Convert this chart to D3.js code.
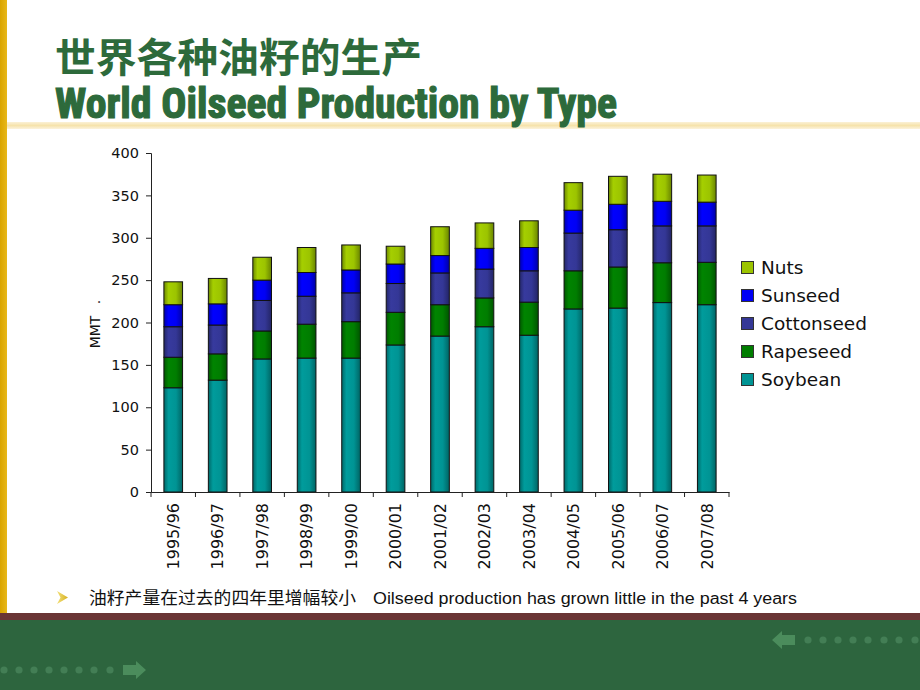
<!DOCTYPE html>
<html>
<head>
<meta charset="utf-8">
<script src="https://cdn.jsdelivr.net/npm/d3@7"></script>
<style>
  html, body { margin: 0; padding: 0; background: #ffffff; }
  svg { display: block; }
</style>
</head>
<body>
<svg id="chart" width="920" height="690"></svg>
<script>
// ---- data ----
const categories = ["1995/96","1996/97","1997/98","1998/99","1999/00","2000/01","2001/02","2002/03","2003/04","2004/05","2005/06","2006/07","2007/08"];
const seriesNames = ["Soybean","Rapeseed","Cottonseed","Sunseed","Nuts"];
const soybean    = [123, 132, 157, 158, 158, 173.5, 184, 195, 185, 216, 217, 223.5, 221];
const rapeseed   = [36, 31, 33, 40, 43, 38.5, 37, 34, 39, 45, 48.5, 47, 50];
const cottonseed = [36, 34, 36, 33, 34, 34, 37.5, 34, 37, 44.5, 44, 43.5, 43];
const sunseed    = [26, 25, 24, 28, 27, 23, 20.5, 24.5, 27.5, 27, 30, 29, 28];
const nuts       = [27, 30, 27, 29.5, 29.5, 21, 34, 30, 31.5, 32.5, 33, 32, 32];
const yTicks = [0, 50, 100, 150, 200, 250, 300, 350, 400];

const colors = {Soybean:"#009494", Rapeseed:"#007d00", Cottonseed:"#343796", Sunseed:"#0000f5", Nuts:"#9cc400"};

const table = categories.map((c, i) => ({
  cat: c, Soybean: soybean[i], Rapeseed: rapeseed[i], Cottonseed: cottonseed[i], Sunseed: sunseed[i], Nuts: nuts[i]
}));

const svg = d3.select("#chart");
const defs = svg.append("defs");

// ---- slide decorations ----
const goldGrad = defs.append("linearGradient").attr("id","gold").attr("x1","0").attr("x2","1");
goldGrad.append("stop").attr("offset","0%").attr("stop-color","#d9a400");
goldGrad.append("stop").attr("offset","100%").attr("stop-color","#e8b81a");
svg.append("rect").attr("x",0).attr("y",0).attr("width",7).attr("height",613).attr("fill","url(#gold)");

const creamGrad = defs.append("linearGradient").attr("id","cream").attr("x1","0").attr("x2","0").attr("y1","0").attr("y2","1");
creamGrad.append("stop").attr("offset","0%").attr("stop-color","#fbf1d6");
creamGrad.append("stop").attr("offset","50%").attr("stop-color","#f6e3ac");
creamGrad.append("stop").attr("offset","100%").attr("stop-color","#fcf3dc");
svg.append("rect").attr("x",7).attr("y",122).attr("width",913).attr("height",7).attr("fill","url(#cream)");

svg.append("rect").attr("x",0).attr("y",613).attr("width",920).attr("height",7).attr("fill","#6a3535");
svg.append("rect").attr("x",0).attr("y",620).attr("width",920).attr("height",70).attr("fill","#2d653e");

// dots & arrows on the green band
const dotsLeft = [4,19,34,49,64,79,94,110];
svg.append("g").selectAll("circle").data(dotsLeft).join("circle")
  .attr("cx", d => d).attr("cy", 670).attr("r", 3.6).attr("fill", "#437e55");
svg.append("path").attr("d","M123,665 L136,665 L136,661 L146,670 L136,679 L136,675 L123,675 Z").attr("fill","#4b8c5c");
const dotsRight = [808,823,838,853,868,884,899,915];
svg.append("g").selectAll("circle").data(dotsRight).join("circle")
  .attr("cx", d => d).attr("cy", 640).attr("r", 3.6).attr("fill", "#437e55");
svg.append("path").attr("d","M795,635 L782,635 L782,631 L772,640 L782,649 L782,645 L795,645 Z").attr("fill","#4b8c5c");

// ---- titles ----
svg.append("text").attr("x",55).attr("y",72)
  .attr("font-family","'Noto Sans CJK SC', sans-serif").attr("font-weight","bold")
  .attr("font-size",40).attr("fill","#2d6a3b")
  .attr("textLength",367).attr("lengthAdjust","spacingAndGlyphs")
  .text("世界各种油籽的生产");
svg.append("text").attr("x",55).attr("y",118)
  .attr("font-family","'Liberation Sans Narrow', 'Roboto Condensed', 'Liberation Sans', sans-serif").attr("font-weight","bold")
  .attr("font-size",42).attr("fill","#2d6a3b")
  .attr("stroke","#2d6a3b").attr("stroke-width",1.2)
  .attr("textLength",562).attr("lengthAdjust","spacingAndGlyphs")
  .text("World Oilseed Production by Type");

// ---- scales ----
const x = d3.scaleBand().domain(categories).range([151, 729]).paddingInner(0.58).paddingOuter(0.29);
const y = d3.scaleLinear().domain([0, 400]).range([492, 153]);

// bar gradients
seriesNames.forEach(s => {
  const g = defs.append("linearGradient").attr("id","g-"+s).attr("x1","0").attr("x2","1");
  const base = d3.color(colors[s]);
  g.append("stop").attr("offset","0%").attr("stop-color", base.darker(1.0));
  g.append("stop").attr("offset","25%").attr("stop-color", base.brighter(0.15));
  g.append("stop").attr("offset","65%").attr("stop-color", base);
  g.append("stop").attr("offset","100%").attr("stop-color", base.darker(1.1));
});

const stack = d3.stack().keys(seriesNames);
const layers = stack(table);

svg.append("g").selectAll("g").data(layers).join("g")
  .attr("fill", d => "url(#g-" + d.key + ")")
  .selectAll("rect").data(d => d).join("rect")
  .attr("x", d => x(d.data.cat))
  .attr("width", x.bandwidth())
  .attr("y", d => y(d[1]))
  .attr("height", d => y(d[0]) - y(d[1]))
  .attr("stroke", "#111")
  .attr("stroke-width", 1);

// ---- axes ----
const yAxis = svg.append("g").attr("transform","translate(151,0)")
  .call(d3.axisLeft(y).tickValues(yTicks).tickSize(5).tickPadding(7).tickFormat(d3.format("d")));
yAxis.selectAll("text").attr("font-family","'DejaVu Sans', Verdana, sans-serif").attr("font-size",14.5).attr("fill","#111");
yAxis.selectAll("line, path").attr("stroke","#222");

const xAxis = svg.append("g").attr("transform","translate(0,492)")
  .call(d3.axisBottom(x).tickSize(0).tickPadding(0));
xAxis.select(".domain").attr("stroke","#222");
xAxis.selectAll("text")
  .attr("font-family","'DejaVu Sans', Verdana, sans-serif").attr("font-size",16).attr("fill","#111")
  .attr("text-anchor","end").attr("transform","rotate(-90)")
  .attr("x",-11).attr("y",0).attr("dy","0.36em");

// boundary ticks (Excel style, between categories)
const boundaries = d3.range(categories.length + 1).map(i => x.range()[0] + i * x.step());
svg.append("g").selectAll("line").data(boundaries).join("line")
  .attr("x1", d => d).attr("x2", d => d).attr("y1", 492).attr("y2", 497)
  .attr("stroke","#222");

// y title
const yt = svg.append("text").attr("transform","translate(100,332) rotate(-90)")
  .attr("text-anchor","middle")
  .attr("font-family","'DejaVu Sans', Verdana, sans-serif").attr("font-size",14).attr("fill","#111")
  .text("MMT");
svg.append("text").attr("transform","translate(100,302) rotate(-90)")
  .attr("text-anchor","middle")
  .attr("font-family","'DejaVu Sans', Verdana, sans-serif").attr("font-size",14).attr("fill","#111")
  .text(".");

// ---- legend ----
const legendNames = ["Nuts","Sunseed","Cottonseed","Rapeseed","Soybean"];
const lg = svg.append("g").selectAll("g").data(legendNames).join("g")
  .attr("transform", (d, i) => `translate(741,${261 + i * 28})`);
lg.append("rect").attr("x",0.5).attr("y",0.5).attr("width",12).attr("height",12)
  .attr("fill", d => colors[d]).attr("stroke","#333").attr("stroke-width",1);
lg.append("text").attr("x",20).attr("y",13)
  .attr("font-family","'DejaVu Sans', Verdana, sans-serif").attr("font-size",18.5).attr("fill","#111")
  .text(d => d);

// ---- bullet note ----
const bGrad = defs.append("linearGradient").attr("id","bul").attr("x1","0").attr("x2","1");
bGrad.append("stop").attr("offset","0%").attr("stop-color","#f3e07a");
bGrad.append("stop").attr("offset","100%").attr("stop-color","#d6b020");
svg.append("path").attr("d","M57,591 L68,597.5 L57,604 L60.5,597.5 Z").attr("fill","url(#bul)");
svg.append("text").attr("x",89).attr("y",604)
  .attr("font-family","'Noto Sans CJK SC', sans-serif").attr("font-size",17).attr("fill","#111")
  .attr("textLength",267).attr("lengthAdjust","spacingAndGlyphs")
  .text("油籽产量在过去的四年里增幅较小");
svg.append("text").attr("x",373).attr("y",604)
  .attr("font-family","'Liberation Sans', Arial, sans-serif").attr("font-size",16).attr("fill","#111")
  .attr("textLength",424).attr("lengthAdjust","spacingAndGlyphs")
  .text("Oilseed production has grown little in the past 4 years");
</script>
</body>
</html>
